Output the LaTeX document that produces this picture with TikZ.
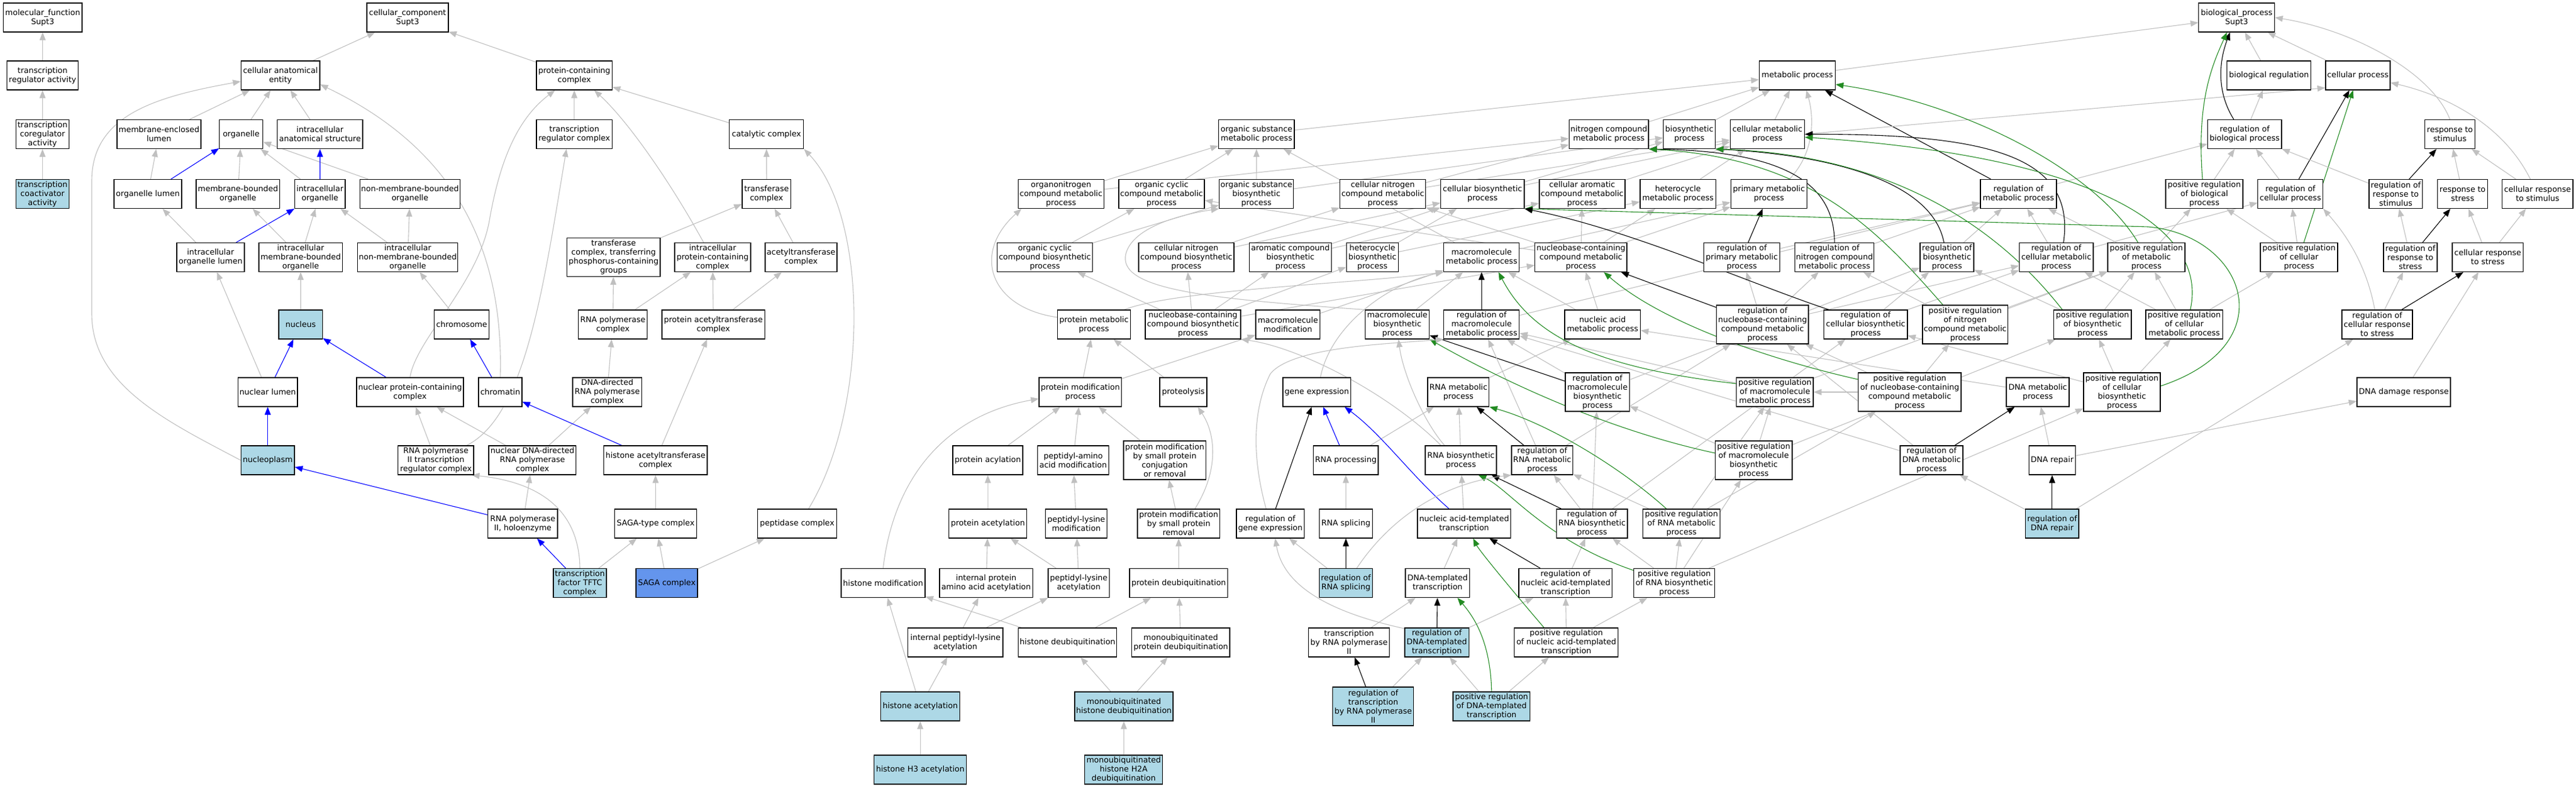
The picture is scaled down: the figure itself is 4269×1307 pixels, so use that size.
\documentclass[tikz,border=0pt]{standalone}
\usepackage{fontspec}
\setmainfont{DejaVu Sans}
\usetikzlibrary{arrows.meta}
\definecolor{lbc}{HTML}{ADD8E6}
\definecolor{cfb}{HTML}{6495ED}
\definecolor{eg}{HTML}{C0C0C0}
\definecolor{fg}{HTML}{228B22}
\pgfdeclarelayer{back}\pgfdeclarelayer{edges}
\pgfsetlayers{back,edges,main}
\tikzset{
 gobox/.style={draw=black, line width=1.2pt, fill=white, rectangle, align=center, inner sep=1.5pt, minimum height=48pt, font=\fontsize{13}{15}\selectfont, text=black},
 lbf/.style={fill=lbc}, cff/.style={fill=cfb},
 tall/.style={minimum height=64pt},
 arr/.style={line width=1.1pt, -{Triangle[length=13pt,width=10pt]}},
 isa/.style={arr, draw=eg},
 partof/.style={arr, draw=blue},
 reg/.style={arr, draw=black},
 preg/.style={arr, draw=fg},
}
\newcommand\GOnode[6][]{\node[gobox,#1,minimum width={#4-#3}] (#2) at ({(#3+#4)/2},#5) {#6};}
\newcommand\GOedge[3][isa]{\draw[#1] (#2) -- (#3);}
\begin{document}
\begin{tikzpicture}[x=1pt,y=-1pt]
\useasboundingbox (0,0) rectangle (4269,1307);
\begin{pgfonlayer}{back}\fill[white] (0,0) rectangle (4269,1307);\end{pgfonlayer}
% ---------------- molecular function
\GOnode{mf}{5.5}{136}{29}{molecular\_function\\Supt3}
\GOnode{tra}{11.5}{129.5}{125}{transcription\\regulator activity}
\GOnode{tca}{26.6}{114.3}{222.5}{transcription\\coregulator\\activity}
\GOnode[lbf]{tcoa}{26.6}{114.3}{321.5}{transcription\\coactivator\\activity}
% ---------------- cellular component
\GOnode{cc}{608}{743}{29}{cellular\_component\\Supt3}
\GOnode{cae}{399.5}{530}{125}{cellular anatomical\\entity}
\GOnode{pcc}{889}{1014.5}{125}{protein-containing\\complex}
\GOnode{mel}{194}{333}{222.5}{membrane-enclosed\\lumen}
\GOnode{org}{363.6}{435.7}{222.5}{organelle}
\GOnode{ias}{459.6}{601}{222.5}{intracellular\\anatomical structure}
\GOnode{trc}{889}{1014.5}{222.5}{transcription\\regulator complex}
\GOnode{cat}{1208.7}{1331.8}{222.5}{catalytic complex}
\GOnode{ol}{189}{301}{321.5}{organelle lumen}
\GOnode{mbo}{325}{463.7}{321.5}{membrane-bounded\\organelle}
\GOnode{io}{488.5}{572}{321.5}{intracellular\\organelle}
\GOnode{nmbo}{596.4}{762.4}{321.5}{non-membrane-bounded\\organelle}
\GOnode{tfc}{1230}{1310.6}{321.5}{transferase\\complex}
\GOnode{iol}{293}{405}{426.5}{intracellular\\organelle lumen}
\GOnode{imbo}{429}{567.5}{426.5}{intracellular\\membrane-bounded\\organelle}
\GOnode{inmbo}{592.7}{758.8}{426.5}{intracellular\\non-membrane-bounded\\organelle}
\GOnode[tall]{tfp}{939.7}{1094}{426.5}{transferase\\complex, transferring\\phosphorus-containing\\groups}
\GOnode{ipcc}{1118}{1244}{426.5}{intracellular\\protein-containing\\complex}
\GOnode{atc}{1268}{1387}{426.5}{acetyltransferase\\complex}
\GOnode[lbf]{nuc}{462}{534.4}{538}{nucleus}
\GOnode{chrs}{719.7}{810.6}{538}{chromosome}
\GOnode{rnapc}{958.5}{1072.8}{538}{RNA polymerase\\complex}
\GOnode{patc}{1097}{1267.5}{538}{protein acetyltransferase\\complex}
\GOnode{nl}{394.4}{493}{650}{nuclear lumen}
\GOnode{npcc}{591}{768}{650}{nuclear protein-containing\\complex}
\GOnode{chrt}{793}{865}{650}{chromatin}
\GOnode{ddrp}{949}{1063.6}{650}{DNA-directed\\RNA polymerase\\complex}
\GOnode[lbf]{np}{399.4}{488}{763}{nucleoplasm}
\GOnode{rtrc}{659.8}{785}{763}{RNA polymerase\\II transcription\\regulator complex}
\GOnode{ndrp}{810}{954.8}{763}{nuclear DNA-directed\\RNA polymerase\\complex}
\GOnode{hatc}{1000.7}{1172}{763}{histone acetyltransferase\\complex}
\GOnode{rp2}{808.8}{924}{868}{RNA polymerase\\II, holoenzyme}
\GOnode{sagat}{1018.6}{1154.5}{868}{SAGA-type complex}
\GOnode{pepc}{1255.5}{1386.4}{868}{peptidase complex}
\GOnode[lbf]{tftc}{917}{1005}{966.5}{transcription\\factor TFTC\\complex}
\GOnode[cff]{saga}{1054}{1156}{966.5}{SAGA complex}
% ---------------- biological process
\GOnode{bp}{3643.7}{3769.4}{29}{biological\_process\\Supt3}
\GOnode{mp}{2915.5}{3041.5}{125}{metabolic process}
\GOnode{breg}{3690.7}{3829.6}{125}{biological regulation}
\GOnode{cp}{3854}{3961}{125}{cellular process}
\GOnode{osmp}{2019.6}{2145}{222.5}{organic substance\\metabolic process}
\GOnode{ncmp}{2600.4}{2732}{222.5}{nitrogen compound\\metabolic process}
\GOnode{bsp}{2756.6}{2842.5}{222.5}{biosynthetic\\process}
\GOnode{cmp}{2867.4}{2990.5}{222.5}{cellular metabolic\\process}
\GOnode{rbp}{3658.6}{3781}{222.5}{regulation of\\biological process}
\GOnode{rs}{4018.6}{4101.4}{222.5}{response to\\stimulus}
\GOnode{oncmp}{1687.4}{1829.4}{321.5}{organonitrogen\\compound metabolic\\process}
\GOnode{occmp}{1854}{1996}{321.5}{organic cyclic\\compound metabolic\\process}
\GOnode{osbp}{2020.6}{2143.6}{321.5}{organic substance\\biosynthetic\\process}
\GOnode{cncmp}{2220.5}{2362.6}{321.5}{cellular nitrogen\\compound metabolic\\process}
\GOnode{cbp}{2387.6}{2526}{321.5}{cellular biosynthetic\\process}
\GOnode{cacmp}{2551}{2693}{321.5}{cellular aromatic\\compound metabolic\\process}
\GOnode{hmp}{2718}{2843.4}{321.5}{heterocycle\\metabolic process}
\GOnode{pmp}{2868.3}{2994.8}{321.5}{primary metabolic\\process}
\GOnode{rmp}{3282}{3408}{321.5}{regulation of\\metabolic process}
\GOnode{prbp}{3589}{3717}{321.5}{positive regulation\\of biological\\process}
\GOnode{rcp}{3741.8}{3849.5}{321.5}{regulation of\\cellular process}
\GOnode{rrs}{3926}{4014.5}{321.5}{regulation of\\response to\\stimulus}
\GOnode{rst}{4039.4}{4122.6}{321.5}{response to\\stress}
\GOnode{crs}{4146.6}{4264}{321.5}{cellular response\\to stimulus}
\GOnode{occbp}{1652.5}{1810.6}{426.5}{organic cyclic\\compound biosynthetic\\process}
\GOnode{cncbp}{1887}{2045}{426.5}{cellular nitrogen\\compound biosynthetic\\process}
\GOnode{acbp}{2070.6}{2206.4}{426.5}{aromatic compound\\biosynthetic\\process}
\GOnode{hbp}{2231.4}{2317.3}{426.5}{heterocycle\\biosynthetic\\process}
\GOnode{mmp}{2392.8}{2517.8}{426.5}{macromolecule\\metabolic process}
\GOnode{nccmp}{2543.8}{2696}{426.5}{nucleobase-containing\\compound metabolic\\process}
\GOnode{rpmp}{2823.6}{2949.5}{426.5}{regulation of\\primary metabolic\\process}
\GOnode{rncmp}{2974.5}{3105.7}{426.5}{regulation of\\nitrogen compound\\metabolic process}
\GOnode{rbsp}{3182}{3271}{426.5}{regulation of\\biosynthetic\\process}
\GOnode{rcmp}{3346.4}{3469}{426.5}{regulation of\\cellular metabolic\\process}
\GOnode{prmp}{3493}{3621}{426.5}{positive regulation\\of metabolic\\process}
\GOnode{prcp}{3746}{3874}{426.5}{positive regulation\\of cellular\\process}
\GOnode{rrst}{3950}{4039}{426.5}{regulation of\\response to\\stress}
\GOnode{crst}{4064}{4181.4}{426.5}{cellular response\\to stress}
\GOnode{prmet}{1752.5}{1873.3}{538}{protein metabolic\\process}
\GOnode{nccbp}{1898}{2056}{538}{nucleobase-containing\\compound biosynthetic\\process}
\GOnode{mmod}{2081}{2187.5}{538}{macromolecule\\modification}
\GOnode{mbp}{2262.5}{2368.7}{538}{macromolecule\\biosynthetic\\process}
\GOnode{rmmp}{2392.8}{2517.8}{538}{regulation of\\macromolecule\\metabolic process}
\GOnode{namp}{2593}{2718.4}{538}{nucleic acid\\metabolic process}
\GOnode[tall]{rnccmp}{2844.7}{2997}{538}{regulation of\\nucleobase-containing\\compound metabolic\\process}
\GOnode{rcbp}{3022.6}{3161}{538}{regulation of\\cellular biosynthetic\\process}
\GOnode[tall]{prncmp}{3186}{3327.5}{538}{positive regulation\\of nitrogen\\compound metabolic\\process}
\GOnode{prbsp}{3403.5}{3532}{538}{positive regulation\\of biosynthetic\\process}
\GOnode{prcmp}{3556}{3683.5}{538}{positive regulation\\of cellular\\metabolic process}
\GOnode{rcrst}{3881}{3998}{538}{regulation of\\cellular response\\to stress}
\GOnode{pmod}{1722}{1858.7}{650}{protein modification\\process}
\GOnode{prot}{1922}{2000}{650}{proteolysis}
\GOnode{gexp}{2126}{2238.5}{650}{gene expression}
\GOnode{rnamp}{2366}{2467.8}{650}{RNA metabolic\\process}
\GOnode[tall]{rmbp}{2594}{2700.5}{650}{regulation of\\macromolecule\\biosynthetic\\process}
\GOnode{prmmp}{2877.8}{3005}{650}{positive regulation\\of macromolecule\\metabolic process}
\GOnode[tall]{prnccmp}{3079.7}{3250}{650}{positive regulation\\of nucleobase-containing\\compound metabolic\\process}
\GOnode{dnamp}{3325}{3429}{650}{DNA metabolic\\process}
\GOnode[tall]{prcbp}{3453}{3580}{650}{positive regulation\\of cellular\\biosynthetic\\process}
\GOnode{ddr}{3906}{4061}{650}{DNA damage response}
\GOnode{pacyl}{1579}{1695}{763}{protein acylation}
\GOnode{paam}{1719.5}{1837.5}{763}{peptidyl-amino\\acid modification}
\GOnode[tall]{pmspcr}{1862}{1998.4}{763}{protein modification\\by small protein\\conjugation\\or removal}
\GOnode{rnap}{2176.6}{2284}{763}{RNA processing}
\GOnode{rnabp}{2362}{2480}{763}{RNA biosynthetic\\process}
\GOnode{rrnamp}{2505}{2606.5}{763}{regulation of\\RNA metabolic\\process}
\GOnode[tall]{prmbp}{2842.4}{2970}{763}{positive regulation\\of macromolecule\\biosynthetic\\process}
\GOnode{rdnamp}{3149}{3253}{763}{regulation of\\DNA metabolic\\process}
\GOnode{dnar}{3362.4}{3439.3}{763}{DNA repair}
\GOnode{pacet}{1572.7}{1701.6}{868}{protein acetylation}
\GOnode{plm}{1732.7}{1834.6}{868}{peptidyl-lysine\\modification}
\GOnode{pmspr}{1885}{2021.5}{868}{protein modification\\by small protein\\removal}
\GOnode{rge}{2049}{2161.5}{868}{regulation of\\gene expression}
\GOnode{rnas}{2186.5}{2274.3}{868}{RNA splicing}
\GOnode{natt}{2349}{2503.7}{868}{nucleic acid-templated\\transcription}
\GOnode{rrnabp}{2579.6}{2697}{868}{regulation of\\RNA biosynthetic\\process}
\GOnode{prrnamp}{2722.6}{2850.5}{868}{positive regulation\\of RNA metabolic\\process}
\GOnode[lbf]{rdnar}{3356.7}{3445}{868}{regulation of\\DNA repair}
\GOnode{hmod}{1394}{1533}{966.5}{histone modification}
\GOnode{ipaaa}{1557}{1711.5}{966.5}{internal protein\\amino acid acetylation}
\GOnode{pla}{1737}{1838.4}{966.5}{peptidyl-lysine\\acetylation}
\GOnode{pdub}{1872}{2034.7}{966.5}{protein deubiquitination}
\GOnode[lbf]{rrnas}{2186.5}{2274.3}{966.5}{regulation of\\RNA splicing}
\GOnode{dtt}{2329}{2435.7}{966.5}{DNA-templated\\transcription}
\GOnode{rnatt}{2517}{2671.7}{966.5}{regulation of\\nucleic acid-templated\\transcription}
\GOnode{prrnabp}{2707.5}{2841.6}{966.5}{positive regulation\\of RNA biosynthetic\\process}
\GOnode{ipla}{1504.8}{1662}{1065}{internal peptidyl-lysine\\acetylation}
\GOnode{hdub}{1687.4}{1850.7}{1065}{histone deubiquitination}
\GOnode{mpdub}{1875.7}{2038}{1065}{monoubiquitinated\\protein deubiquitination}
\GOnode{trp2}{2168.6}{2302.6}{1065}{transcription\\by RNA polymerase\\II}
\GOnode[lbf]{rdtt}{2328}{2434.3}{1065}{regulation of\\DNA-templated\\transcription}
\GOnode{prnatt}{2509.8}{2681.6}{1065}{positive regulation\\of nucleic acid-templated\\transcription}
\GOnode[lbf]{hac}{1459.5}{1590.6}{1171}{histone acetylation}
\GOnode[lbf]{mhdub}{1781}{1944}{1171}{monoubiquitinated\\histone deubiquitination}
\GOnode[lbf,tall]{rtrp2}{2208.7}{2342.7}{1171}{regulation of\\transcription\\by RNA polymerase\\II}
\GOnode[lbf]{prdtt}{2407.9}{2535.8}{1171}{positive regulation\\of DNA-templated\\transcription}
\GOnode[lbf]{h3ac}{1448.6}{1601.5}{1276}{histone H3 acetylation}
\GOnode[lbf]{mh2a}{1797.8}{1926.6}{1276}{monoubiquitinated\\histone H2A\\deubiquitination}
% ================= edges
\begin{pgfonlayer}{edges}
% MF
\GOedge{tra}{mf}\GOedge{tca}{tra}\GOedge{tcoa}{tca}
% CC
\GOedge{cae}{cc}\GOedge{pcc}{cc}
\GOedge{mel}{cae}\GOedge{org}{cae}\GOedge{ias}{cae}
\GOedge{trc}{pcc}\GOedge{cat}{pcc}
\GOedge{ol}{mel}\GOedge[partof]{ol}{org}\GOedge{mbo}{org}\GOedge{io}{org}\GOedge{nmbo}{org}\GOedge[partof]{io}{ias}
\GOedge{tfc}{cat}
\GOedge{iol}{ol}\GOedge[partof]{iol}{io}\GOedge{imbo}{mbo}\GOedge{imbo}{io}\GOedge{inmbo}{io}\GOedge{inmbo}{nmbo}
\GOedge{tfp}{tfc}\GOedge{atc}{tfc}
\GOedge{rnapc}{tfp}\GOedge{rnapc}{ipcc}\GOedge{patc}{ipcc}\GOedge{patc}{atc}
\GOedge{nuc}{imbo}\GOedge{chrs}{inmbo}
\GOedge{ddrp}{rnapc}\GOedge{hatc}{patc}
\GOedge{nl}{iol}\GOedge[partof]{nl}{nuc}\GOedge[partof]{npcc}{nuc}
\GOedge[partof]{chrt}{chrs}
\GOedge[partof]{np}{nl}
\GOedge{rtrc}{npcc}
\GOedge{ndrp}{npcc}\GOedge{ndrp}{ddrp}
\GOedge[partof]{hatc}{chrt}
\GOedge[partof]{rp2}{np}\GOedge{rp2}{ndrp}
\GOedge{sagat}{hatc}
\GOedge[partof]{tftc}{rp2}\GOedge{tftc}{sagat}
\GOedge{saga}{sagat}\GOedge{saga}{pepc}
\draw[isa] (np.west) .. controls (280,700) and (152,640) .. (152,520) -- (152,300) .. controls (152,190) and (260,160) .. ([yshift=-10pt]cae.west);
\draw[isa] (chrt.north) .. controls (835,420) and (760,250) .. ([yshift=-15pt]cae.east);
\draw[isa] (npcc.north) .. controls (690,560) and (795,470) .. (812,360) .. controls (830,260) and (860,195) .. ([xshift=-32pt]pcc.south);
\draw[isa] ([xshift=-15pt]ipcc.north) .. controls (1110,300) and (1040,200) .. ([xshift=33pt]pcc.south);
\draw[isa] ([xshift=19pt]pepc.north) .. controls (1440,680) and (1440,360) .. (cat.south east);
\draw[isa] ([xshift=51pt]rtrc.north) .. controls (870,690) and (900,480) .. ([xshift=-13pt]trc.south);
\draw[isa] (tftc.north) .. controls (960,850) and (900,800) .. ([xshift=-4pt]rtrc.south east);
% BP straight
\GOedge{mp}{bp}\GOedge{breg}{bp}\GOedge{cp}{bp}
\GOedge{rbp}{breg}\GOedge{prbp}{rbp}
\GOedge{osmp}{mp}\GOedge{ncmp}{mp}\GOedge{bsp}{mp}\GOedge{cmp}{mp}\GOedge[reg]{rmp}{mp}
\draw[isa] (cmp.east) -- ([yshift=4pt]cp.south west);
\GOedge{rmp}{rbp}\GOedge{prmp}{rmp}\GOedge{prmp}{prbp}
\GOedge{rcp}{rbp}\GOedge[reg]{rcp}{cp}\GOedge[preg]{prcp}{cp}\GOedge{prcp}{rcp}\GOedge{prcp}{prbp}
\GOedge{rrs}{rbp}\GOedge[reg]{rrs}{rs}\GOedge{rst}{rs}\GOedge{crs}{rs}
\GOedge{rrst}{rrs}\GOedge[reg]{rrst}{rst}\GOedge{crst}{rst}\GOedge{crst}{crs}
\GOedge{rcrst}{rrst}\GOedge[reg]{rcrst}{crst}
\GOedge{ddr}{crst}\GOedge{dnar}{ddr}\GOedge{rdnar}{rcrst}
\GOedge{oncmp}{osmp}\GOedge{oncmp}{ncmp}\GOedge{occmp}{osmp}\GOedge{osbp}{osmp}\GOedge{osbp}{bsp}
\GOedge{cncmp}{ncmp}\GOedge{cncmp}{cmp}\GOedge{cbp}{bsp}\GOedge{cbp}{cmp}\GOedge{cacmp}{cmp}\GOedge{hmp}{cmp}
\GOedge{occbp}{occmp}\GOedge{occbp}{osbp}
\GOedge{cncbp}{cncmp}\GOedge{cncbp}{cbp}
\GOedge{acbp}{cacmp}\GOedge{acbp}{cbp}
\GOedge{hbp}{hmp}\GOedge{hbp}{cbp}
\GOedge{mmp}{osmp}\GOedge{mmp}{pmp}
\GOedge{nccmp}{cacmp}\GOedge{nccmp}{hmp}\GOedge{nccmp}{cncmp}\GOedge{nccmp}{occmp}\GOedge{nccmp}{pmp}
\GOedge{nccbp}{occbp}\GOedge{nccbp}{cncbp}\GOedge{nccbp}{acbp}\GOedge{nccbp}{hbp}\GOedge{nccbp}{nccmp}
\GOedge{mmod}{mmp}\GOedge{mbp}{mmp}
\GOedge[reg]{rmmp}{mmp}\GOedge{rmmp}{rmp}
\GOedge{namp}{mmp}\GOedge{namp}{nccmp}
\GOedge[reg]{rnccmp}{nccmp}\GOedge{rnccmp}{rpmp}\GOedge{rnccmp}{rncmp}\GOedge{rnccmp}{rcmp}
\GOedge[reg]{rpmp}{pmp}\GOedge{rpmp}{rmp}
\GOedge{rncmp}{rmp}\GOedge{rbsp}{rmp}
\GOedge{rcmp}{rmp}\GOedge{rcmp}{rcp}
\GOedge{rcbp}{rbsp}\GOedge{rcbp}{rcmp}
\GOedge{prncmp}{rncmp}\GOedge{prncmp}{prmp}
\GOedge{prbsp}{rbsp}\GOedge{prbsp}{prmp}
\GOedge{prcmp}{rcmp}\GOedge{prcmp}{prmp}\GOedge{prcmp}{prcp}
\GOedge{pmod}{prmet}\GOedge{pmod}{mmod}\GOedge{prot}{prmet}
\GOedge{rnamp}{namp}
\GOedge[reg]{rmbp}{mbp}\GOedge{rmbp}{rmmp}\GOedge{rmbp}{rbsp}
\GOedge{prmmp}{rmmp}\GOedge{prmmp}{prmp}
\GOedge{prnccmp}{rnccmp}\GOedge{prnccmp}{prncmp}\GOedge{prnccmp}{prmmp}
\GOedge{dnamp}{namp}
\GOedge{prcbp}{rcbp}\GOedge{prcbp}{prbsp}\GOedge{prcbp}{prcmp}
\GOedge{pacyl}{pmod}\GOedge{paam}{pmod}\GOedge{pmspcr}{pmod}
\GOedge{rnap}{rnamp}\GOedge[partof]{rnap}{gexp}
\GOedge{rnabp}{rnamp}
\GOedge[reg]{rrnamp}{rnamp}\GOedge{rrnamp}{rmmp}\GOedge{rrnamp}{rnccmp}
\GOedge{prmbp}{rmbp}\GOedge{prmbp}{prmmp}\GOedge{prmbp}{prbsp}
\GOedge[reg]{rdnamp}{dnamp}\GOedge{rdnamp}{rmmp}\GOedge{rdnamp}{rnccmp}
\GOedge{dnar}{dnamp}
\GOedge[reg]{rdnar}{dnar}\GOedge{rdnar}{rdnamp}
\GOedge{pacet}{pacyl}\GOedge{plm}{paam}\GOedge{pmspr}{pmspcr}
\GOedge[reg]{rge}{gexp}
\GOedge{rnas}{rnap}
\GOedge{natt}{rnabp}
\GOedge[reg]{rrnabp}{rnabp}\GOedge{rrnabp}{rrnamp}\GOedge{rrnabp}{rmbp}\GOedge{rrnabp}{rcbp}
\GOedge{prrnamp}{rrnamp}\GOedge{prrnamp}{prnccmp}\GOedge{prrnamp}{prmmp}
\GOedge{ipaaa}{pacet}\GOedge{pla}{pacet}\GOedge{pla}{plm}\GOedge{pdub}{pmspr}
\GOedge[reg]{rrnas}{rnas}\GOedge{rrnas}{rge}
\GOedge{dtt}{natt}
\GOedge[reg]{rnatt}{natt}\GOedge{rnatt}{rrnabp}
\GOedge{prrnabp}{rrnabp}\GOedge{prrnabp}{prrnamp}\GOedge{prrnabp}{prmbp}\GOedge{prrnabp}{prcbp}
\GOedge{ipla}{ipaaa}\GOedge{ipla}{pla}
\GOedge{hdub}{hmod}\GOedge{hdub}{pdub}\GOedge{mpdub}{pdub}
\GOedge{trp2}{dtt}
\GOedge[reg]{rdtt}{dtt}\GOedge{rdtt}{rnatt}
\GOedge{prnatt}{rnatt}\GOedge{prnatt}{prrnabp}
\GOedge{hac}{hmod}\GOedge{hac}{ipla}
\GOedge{mhdub}{hdub}\GOedge{mhdub}{mpdub}
\GOedge[reg]{rtrp2}{trp2}\GOedge{rtrp2}{rdtt}
\GOedge{prdtt}{rdtt}\GOedge{prdtt}{prnatt}
\GOedge{h3ac}{hac}\GOedge{mh2a}{mhdub}
% BP curves
\draw[isa] (rs.north) .. controls (4030,120) and (3900,50) .. (bp.east);
\draw[reg] ([xshift=-18pt]rbp.north) .. controls (3672,150) and (3678,100) .. ([xshift=-11pt]bp.south);
\draw[preg] ([xshift=-3pt]prbp.north) .. controls (3640,170) and (3665,110) .. ([xshift=-16pt]bp.south);
\draw[isa] ([xshift=-12pt]crs.north) .. controls (4150,210) and (4060,160) .. ([yshift=-12pt]cp.east);
\draw[isa] ([xshift=-4pt]rcrst.north) .. controls (3920,430) and (3880,380) .. (rcp.south east);
\draw[isa] ([xshift=34pt]pmp.north) .. controls (3010,250) and (3005,190) .. ([xshift=15pt]mp.south);
\draw[preg] ([xshift=-14pt]prmp.north) .. controls (3470,280) and (3250,170) .. ([yshift=-15pt]mp.east);
\draw[reg] ([xshift=12pt]rcmp.north) .. controls (3440,260) and (3300,222) .. (cmp.east);
\draw[preg] ([xshift=10pt]prcmp.north) .. controls (3660,380) and (3480,260) .. ([yshift=-5pt]cmp.east);
\draw[reg] (rncmp.north) .. controls (3040,300) and (2950,250) .. (ncmp.south east);
\draw[reg] ([xshift=-5pt]rbsp.north) .. controls (3200,290) and (3000,255) .. (bsp.south east);
\draw[preg] ([xshift=-50pt]prbsp.north) .. controls (3290,350) and (3100,255) .. (bsp.south east);
\draw[preg] ([xshift=-37pt]prncmp.north) .. controls (3110,380) and (3000,262) .. (ncmp.south east);
\draw[preg] ([yshift=10pt]prcbp.east) .. controls (3790,570) and (3720,390) .. (3560,376) -- (cbp.south east);
\draw[reg] ([xshift=-61pt]rcbp.north) .. controls (2900,470) and (2700,380) .. (cbp.south east);
\draw[preg] ([yshift=14pt]prmmp.west) .. controls (2650,610) and (2540,560) .. ([xshift=28pt]mmp.south);
\draw[preg] ([yshift=21pt]prnccmp.west) .. controls (2950,600) and (2760,540) .. ([xshift=38pt]nccmp.south);
\draw[preg] ([yshift=12pt]prmbp.west) .. controls (2650,710) and (2470,620) .. (mbp.south east);
\draw[preg] ([xshift=-25pt]prrnamp.north) .. controls (2680,770) and (2560,700) .. (rnamp.south east);
\draw[preg] ([yshift=21pt]prrnabp.west) .. controls (2560,895) and (2500,810) .. ([xshift=29pt]rnabp.south);
\draw[preg] ([xshift=-37pt]prnatt.north) .. controls (2490,960) and (2450,910) .. ([xshift=15pt]natt.south);
\draw[preg] (prdtt.north) .. controls (2470,1060) and (2440,1020) .. ([xshift=33pt]dtt.south);
\draw[partof] ([xshift=-25pt]natt.north) .. controls (2340,790) and (2290,720) .. ([xshift=46pt]gexp.south);
\draw[isa] ([yshift=23pt]rdtt.west) .. controls (2180,1010) and (2125,960) .. ([xshift=8pt]rge.south);
\draw[isa] ([xshift=18pt]rrnas.north) .. controls (2310,850) and (2400,800) .. (rrnamp.south west);
\draw[isa] ([xshift=-7pt]rge.north) .. controls (2075,760) and (2075,680) .. (2105,620) .. controls (2140,575) and (2300,570) .. (rmmp.south west);
\draw[isa] ([xshift=6pt]gexp.north) .. controls (2205,540) and (2300,470) .. (mmp.south west);
\draw[isa] (mbp.north west) .. controls (2000,495) and (1850,480) .. (1866,420) .. controls (1880,370) and (1980,352) .. (osbp.south west);
\draw[isa] ([yshift=12pt]prmet.west) .. controls (1640,510) and (1610,420) .. ([xshift=6pt]oncmp.south west);
\draw[isa] ([xshift=50pt]prmet.north) .. controls (1950,480) and (2250,470) .. (mmp.south west);
\draw[isa] ([xshift=-27pt]rnabp.north) .. controls (2360,700) and (2325,620) .. ([xshift=2pt]mbp.south);
\draw[isa] ([xshift=-33pt]rnabp.north) .. controls (2300,650) and (2150,575) .. (nccbp.south east);
\draw[isa] (hmod.north) .. controls (1480,800) and (1560,690) .. ([yshift=-11pt]pmod.west);
\draw[isa] ([xshift=27pt]pmspr.north) .. controls (2020,780) and (2015,720) .. ([xshift=24pt]prot.south);
\end{pgfonlayer}
\end{tikzpicture}
\end{document}
